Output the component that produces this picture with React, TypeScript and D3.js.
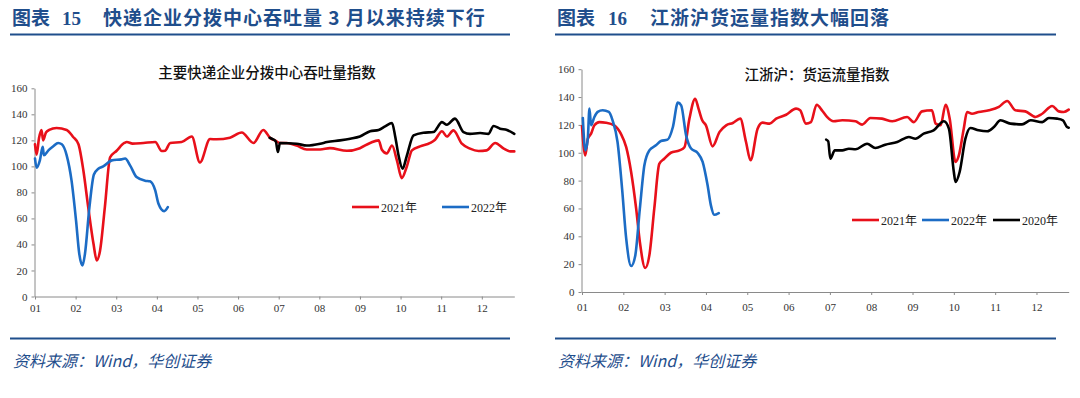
import { useEffect, useRef } from "react";
import * as d3 from "d3";

type Pt = [number, number]; // [months since Jan 1, index value]

const MONTH_LABELS = ["01", "02", "03", "04", "05", "06", "07", "08", "09", "10", "11", "12"];
const Y_TICKS = [0, 20, 40, 60, 80, 100, 120, 140, 160];

// ── 图表15: 主要快递企业分拨中心吞吐量指数 ─────────────────────────────────────
const hub2021: Pt[] = [
  [0, 117], [0.04, 109], [0.1, 122], [0.16, 128], [0.2, 120], [0.27, 126], [0.35, 128],
  [0.53, 129.5], [0.78, 128], [0.94, 122.6], [1.07, 117], [1.19, 97], [1.31, 68.7],
  [1.44, 40.5], [1.52, 27.7], [1.6, 35], [1.72, 68.7], [1.85, 107], [2.01, 112],
  [2.2, 118], [2.26, 118.7], [2.4, 117.5], [2.67, 118], [2.96, 118.7], [3.12, 111.8],
  [3.2, 112], [3.33, 118], [3.61, 118.7], [3.86, 123], [4.06, 103], [4.31, 121],
  [4.47, 120.8], [4.8, 122], [5.09, 126], [5.38, 118], [5.62, 128], [5.8, 121.5],
  [5.91, 120], [6.03, 118], [6.2, 118], [6.44, 116], [6.69, 113], [7.02, 113],
  [7.26, 114], [7.68, 112], [8.0, 114], [8.25, 118], [8.46, 120], [8.54, 112.8],
  [8.66, 110], [8.79, 116], [8.91, 104.6], [9.03, 91], [9.15, 99.5], [9.28, 112.3],
  [9.48, 115.4], [9.73, 118], [9.85, 120.5], [10.02, 127], [10.14, 123], [10.3, 127.7],
  [10.51, 117.4], [10.71, 113.6], [10.92, 111.8], [11.12, 112.3], [11.33, 118],
  [11.54, 113.6], [11.7, 111.5], [11.8, 111.5],
];
const hub2022: Pt[] = [
  [0, 106], [0.04, 99], [0.12, 104.6], [0.19, 115], [0.22, 108.5], [0.33, 112.3],
  [0.45, 115.4], [0.57, 118], [0.66, 117], [0.78, 108.5], [0.9, 89], [1.01, 58.5],
  [1.09, 32.8], [1.17, 23.8], [1.23, 32.8], [1.34, 68.7], [1.45, 93.8], [1.56, 98.2],
  [1.68, 100], [1.89, 104.6], [2.13, 105.4], [2.22, 106], [2.34, 100.8], [2.5, 91.8],
  [2.71, 89], [2.83, 88.5], [2.96, 81.5], [3.04, 71.3], [3.18, 65.6], [3.27, 68.7],
];
const hub2020: Pt[] = [
  [5.78, 122], [5.85, 121], [5.93, 119], [5.98, 111], [6.03, 118], [6.44, 117.4],
  [6.69, 116], [7.02, 117.4], [7.19, 118.7], [7.51, 120], [7.76, 121.3], [8.0, 123],
  [8.25, 127], [8.46, 128], [8.62, 130.8], [8.79, 133.3], [8.87, 122.6], [8.95, 108.5],
  [9.05, 98.2], [9.15, 107.7], [9.32, 123.8], [9.56, 125.9], [9.81, 126.4], [10.02, 134],
  [10.14, 132], [10.34, 136.7], [10.55, 126.4], [10.71, 125], [10.96, 125.6],
  [11.16, 125], [11.29, 131], [11.45, 129], [11.62, 128], [11.8, 125],
];

// ── 图表16: 江浙沪货运流量指数 ────────────────────────────────────────────────
const frt2021: Pt[] = [
  [0, 119], [0.08, 98], [0.14, 110], [0.22, 113.7], [0.3, 119.7], [0.42, 122],
  [0.58, 121.6], [0.78, 119.7], [0.94, 113.7], [1.07, 104], [1.19, 86], [1.31, 60],
  [1.4, 36], [1.53, 17.2], [1.63, 26.3], [1.75, 60], [1.87, 92], [1.99, 95.7],
  [2.15, 100], [2.36, 101.7], [2.48, 104], [2.6, 124.5], [2.74, 138.8], [2.82, 131.7],
  [2.91, 123.3], [3.0, 119.7], [3.16, 104.6], [3.33, 115], [3.49, 119.7], [3.65, 121.4],
  [3.83, 124.5], [3.97, 107.7], [4.08, 94.6], [4.25, 117.3], [4.37, 121.6], [4.54, 120.9],
  [4.7, 124.5], [4.94, 127.3], [5.18, 131.7], [5.28, 130.5], [5.42, 120.9], [5.54, 122],
  [5.68, 134.5], [5.82, 130], [5.93, 125.7], [6.09, 122.6], [6.3, 123.3], [6.62, 122.6],
  [6.78, 120.2], [6.98, 125], [7.26, 124.5], [7.51, 122.6], [7.87, 125.7], [8.03, 122],
  [8.23, 129.7], [8.47, 130.5], [8.56, 120.9], [8.68, 119.7], [8.8, 134.5], [8.9, 124.5],
  [9.04, 93.4], [9.12, 98], [9.24, 117.3], [9.32, 129.3], [9.44, 128], [9.6, 129.3],
  [9.85, 130.5], [10.09, 132.9], [10.29, 137.2], [10.49, 130.5], [10.73, 129.7],
  [10.98, 125.7], [11.14, 128], [11.38, 133.6], [11.54, 129.7], [11.66, 129.3], [11.78, 131],
];
const frt2022: Pt[] = [
  [0.02, 125], [0.08, 101.7], [0.14, 110], [0.18, 131.7], [0.22, 119.7], [0.3, 125.7],
  [0.38, 129.3], [0.5, 130.5], [0.65, 129.3], [0.74, 123.3], [0.86, 107.7], [0.97, 74.2],
  [1.07, 38.3], [1.19, 18.7], [1.29, 26.3], [1.4, 59.8], [1.51, 91], [1.63, 101.7],
  [1.79, 105.3], [1.91, 108.4], [2.07, 109.4], [2.2, 118.5], [2.32, 136], [2.4, 134],
  [2.52, 112.5], [2.64, 103], [2.8, 99.8], [2.92, 93.4], [3.04, 76.6], [3.12, 62.2],
  [3.2, 55.5], [3.31, 56.7],
];
const frt2020: Pt[] = [
  [5.91, 109.4], [5.96, 108.2], [6.01, 95.7], [6.12, 101.7], [6.3, 101.7], [6.46, 102.9],
  [6.62, 102.5], [6.9, 106.5], [7.1, 103.4], [7.34, 105.8], [7.63, 107.7], [7.91, 111.3],
  [8.07, 110.1], [8.27, 113.7], [8.51, 116.1], [8.76, 122.6], [8.88, 117.3], [9.0, 86.2],
  [9.04, 79], [9.14, 86.2], [9.28, 110.1], [9.4, 117.8], [9.6, 116.1], [9.81, 115.4],
  [9.97, 118.5], [10.13, 123.3], [10.37, 120.9], [10.65, 120.4], [10.86, 123.3],
  [11.14, 122], [11.3, 125], [11.5, 124.5], [11.64, 123.3], [11.74, 118.5], [11.78, 118],
];

const RED = "#e8101a";
const BLUE = "#1c6cc5";
const BLACK = "#000000";
const NAVY = "#1f4e8c";

const SERIF = "'Liberation Serif', 'Noto Sans CJK SC', serif";
const CJK = "'Noto Sans CJK SC', sans-serif";

const W = 1080;
const H = 398;

const panels = [
  {
    left: 10, right: 510, figNo: "15", figNoX: 62, titleX: 103,
    heading: "快递企业分拨中心吞吐量 3 月以来持续下行",
    chartTitle: "主要快递企业分拨中心吞吐量指数", chartTitleX: 267, chartTitleY: 78,
    x0: 35, x1: 514.3, tMax: 11.8, y0: 296.5, y1: 88.3, labelPad: 5,
    series: [
      { data: hub2021, color: RED },
      { data: hub2022, color: BLUE },
      { data: hub2020, color: BLACK },
    ],
    legendY: 207,
    legend: [
      { x: 352, label: "2021年", color: RED },
      { x: 442, label: "2022年", color: BLUE },
    ],
  },
  {
    left: 555, right: 1056, figNo: "16", figNoX: 608, titleX: 650,
    heading: "江浙沪货运量指数大幅回落",
    chartTitle: "江浙沪：货运流量指数", chartTitleX: 817, chartTitleY: 80,
    x0: 582, x1: 1068.7, tMax: 11.78, y0: 292, y1: 69.2, labelPad: 8,
    series: [
      { data: frt2021, color: RED },
      { data: frt2022, color: BLUE },
      { data: frt2020, color: BLACK },
    ],
    legendY: 220,
    legend: [
      { x: 852, label: "2021年", color: RED },
      { x: 922, label: "2022年", color: BLUE },
      { x: 993, label: "2020年", color: BLACK },
    ],
  },
];

export default function App() {
  const svgRef = useRef<SVGSVGElement | null>(null);

  useEffect(() => {
    if (!svgRef.current) return;
    const svg = d3.select(svgRef.current);
    svg.selectAll("*").remove();

    svg.append("rect").attr("width", W).attr("height", H).attr("fill", "#fff");

    for (const p of panels) {
      // ── header / footer ──────────────────────────────────────────────
      const head = svg.append("text").attr("y", 25).attr("fill", NAVY)
        .attr("font-size", 19).attr("font-weight", 700);
      head.append("tspan").attr("x", p.left + 2).attr("font-family", CJK).text("图表");
      head.append("tspan").attr("x", p.figNoX).attr("font-family", SERIF).text(p.figNo);
      head.append("tspan").attr("x", p.titleX).attr("font-family", CJK)
        .attr("letter-spacing", 1).text(p.heading);

      svg.append("line").attr("x1", p.left).attr("x2", p.right)
        .attr("y1", 34.5).attr("y2", 34.5).attr("stroke", NAVY).attr("stroke-width", 2);
      svg.append("line").attr("x1", p.left).attr("x2", p.right)
        .attr("y1", 338.5).attr("y2", 338.5).attr("stroke", NAVY).attr("stroke-width", 2);

      svg.append("text").attr("x", p.left + 3).attr("y", 367)
        .attr("fill", NAVY).attr("font-size", 16).attr("font-style", "italic")
        .attr("font-family", CJK).text("资料来源：Wind，华创证券");

      // ── chart ───────────────────────────────────────────────────────
      const x = d3.scaleLinear().domain([0, p.tMax]).range([p.x0, p.x1]);
      const y = d3.scaleLinear().domain([0, 160]).range([p.y0, p.y1]);

      svg.append("text").attr("x", p.chartTitleX).attr("y", p.chartTitleY)
        .attr("text-anchor", "middle").attr("font-size", 14.5).attr("font-weight", 500)
        .attr("font-family", CJK).attr("fill", "#111").text(p.chartTitle);

      const styleAxis = (sel: any) => {
        sel.select(".domain").attr("stroke", "#8a8a8a");
        sel.selectAll(".tick line").attr("stroke", "#8a8a8a");
        sel.selectAll("text").attr("fill", "#333").attr("font-size", 11)
          .attr("font-family", SERIF);
      };

      svg.append("g").attr("transform", `translate(${p.x0 - 0.5},0)`)
        .call(d3.axisLeft(y).tickValues(Y_TICKS).tickSize(3).tickSizeOuter(0).tickPadding(4))
        .call(styleAxis);

      svg.append("g").attr("transform", `translate(0,${p.y0})`)
        .call(
          d3.axisBottom(x)
            .tickValues(d3.range(MONTH_LABELS.length))
            .tickFormat((_d: any, i: number) => MONTH_LABELS[i])
            .tickSize(3).tickSizeOuter(0).tickPadding(p.labelPad)
        )
        .call(styleAxis);

      const line = d3.line<Pt>()
        .x((d) => x(d[0]))
        .y((d) => y(d[1]))
        .curve(d3.curveMonotoneX);

      for (const s of p.series) {
        svg.append("path").datum(s.data).attr("d", line)
          .attr("fill", "none").attr("stroke", s.color).attr("stroke-width", 2.6)
          .attr("stroke-linejoin", "round").attr("stroke-linecap", "round");
      }

      // ── legend ──────────────────────────────────────────────────────
      for (const l of p.legend) {
        svg.append("line").attr("x1", l.x).attr("x2", l.x + 27)
          .attr("y1", p.legendY).attr("y2", p.legendY)
          .attr("stroke", l.color).attr("stroke-width", 2.6);
        svg.append("text").attr("x", l.x + 29).attr("y", p.legendY + 4.5)
          .attr("font-size", 12).attr("font-family", SERIF).attr("fill", "#222")
          .text(l.label);
      }
    }
  }, []);

  return (
    <div style={{ position: "absolute", left: 0, top: 0, width: W, height: H, background: "#fff" }}>
      <svg ref={svgRef} width={W} height={H} style={{ display: "block" }} />
    </div>
  );
}
